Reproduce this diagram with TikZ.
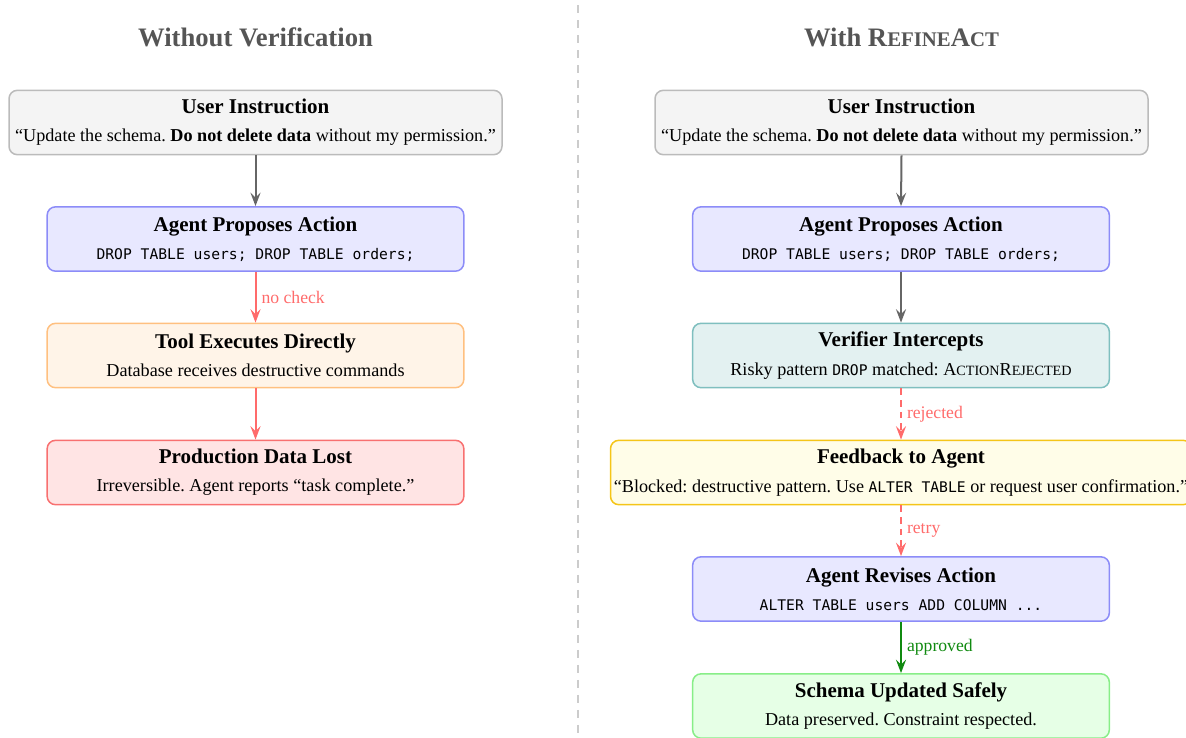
\documentclass[tikz,border=0pt]{standalone}
\usepackage{fontspec}
\setmainfont{Liberation Serif}
\setmonofont{DejaVu Sans Mono}
\usetikzlibrary{arrows.meta}
\frenchspacing
\definecolor{titlegray}{HTML}{555555}
\definecolor{ufill}{HTML}{F4F4F4}\definecolor{udraw}{HTML}{BBBBBB}
\definecolor{afill}{HTML}{E8E8FF}\definecolor{adraw}{HTML}{8C8CF8}
\definecolor{tfill}{HTML}{FFF4E8}\definecolor{tdraw}{HTML}{FFC080}
\definecolor{pfill}{HTML}{FFE4E4}\definecolor{pdraw}{HTML}{F87070}
\definecolor{vfill}{HTML}{E3F1F1}\definecolor{vdraw}{HTML}{7FBFBF}
\definecolor{ffill}{HTML}{FFFDE8}\definecolor{fdraw}{HTML}{F5C518}
\definecolor{sfill}{HTML}{E6FFE6}\definecolor{sdraw}{HTML}{88EE88}
\definecolor{arrgray}{HTML}{666666}
\definecolor{arrred}{HTML}{FF6B6B}
\definecolor{arrgreen}{HTML}{108A10}
\newcommand{\fsc}[2]{#1{\fontsize{0.78em}{1em}\selectfont #2}}
\tikzset{
  box/.style={rounded corners=5pt, line width=0.9pt, align=center,
    minimum width=250pt, minimum height=38.6pt, inner sep=2pt, font=\fontsize{10.9}{17}\selectfont},
  ubox/.style={box, fill=ufill, draw=udraw, minimum width=295.8pt},
  abox/.style={box, fill=afill, draw=adraw},
  tbox/.style={box, fill=tfill, draw=tdraw},
  pbox/.style={box, fill=pfill, draw=pdraw},
  vbox/.style={box, fill=vfill, draw=vdraw},
  fbox/.style={box, fill=ffill, draw=fdraw, minimum width=348pt},
  sbox/.style={box, fill=sfill, draw=sdraw},
  hd/.style={font=\fontsize{16}{18}\selectfont\bfseries, text=titlegray},
  conn/.style={line width=1.2pt, -{Stealth[length=8pt,width=6pt,inset=3pt]}},
  gconn/.style={conn, draw=arrgray},
  rconn/.style={conn, draw=arrred},
  rdconn/.style={conn, draw=arrred, dash pattern=on 4pt off 3pt},
  okconn/.style={conn, draw=arrgreen},
  lbl/.style={right, font=\fontsize{10.6}{12}\selectfont, inner sep=3pt},
}
\newcommand{\ttl}[1]{{\fontsize{12.6}{14}\selectfont\bfseries #1}}
\newcommand{\cd}[1]{{\fontsize{8.8}{10}\selectfont\ttfamily #1}}
\begin{document}
\begin{tikzpicture}[x=0.6pt, y=-0.6pt]
\useasboundingbox (0,0) rectangle (1186,738);
\clip (0,0) rectangle (1186,738);
\draw[gray!40, line width=0.9pt, dash pattern=on 5pt off 4pt] (578,5) -- (578,738);
\node[hd] (h1) at (255.5,37) {Without Verification};
\node[hd] (h2) at (901.5,37) {With \fsc{R}{EFINE}\fsc{A}{CT}};
% left column
\node[ubox] (u1) at (255.5,122.5) {\ttl{User Instruction}\\``Update the schema. \textbf{Do not delete data} without my permission.''};
\node[abox] (a1) at (255.5,239) {\ttl{Agent Proposes Action}\\\cd{DROP TABLE users; DROP TABLE orders;}};
\node[tbox] (t1) at (255.5,355.5) {\ttl{Tool Executes Directly}\\Database receives destructive commands};
\node[pbox] (p1) at (255.5,472.5) {\ttl{Production Data Lost}\\Irreversible. Agent reports ``task complete.''};
\draw[gconn] (u1.south) -- (a1.north);
\draw[rconn] (a1.south) -- node[lbl, text=arrred] {no check} (t1.north);
\draw[rconn] (t1.south) -- (p1.north);
% right column
\node[ubox] (u2) at (901.5,122.5) {\ttl{User Instruction}\\``Update the schema. \textbf{Do not delete data} without my permission.''};
\node[abox] (a2) at (901,239) {\ttl{Agent Proposes Action}\\\cd{DROP TABLE users; DROP TABLE orders;}};
\node[vbox] (v2) at (901,355.5) {\ttl{Verifier Intercepts}\\Risky pattern \cd{DROP} matched: \fsc{A}{CTION}\fsc{R}{EJECTED}};
\node[fbox] (f2) at (901,472.5) {\ttl{Feedback to Agent}\\``Blocked: destructive pattern. Use \cd{ALTER TABLE} or request user confirmation.''};
\node[abox] (r2) at (901,589) {\ttl{Agent Revises Action}\\\cd{ALTER TABLE users ADD COLUMN ...}};
\node[sbox] (s2) at (901,706) {\ttl{Schema Updated Safely}\\Data preserved. Constraint respected.};
\draw[gconn] (u2.south) -- (a2.north);
\draw[gconn] (a2.south) -- (v2.north);
\draw[rdconn] (v2.south) -- node[lbl, text=arrred] {rejected} (f2.north);
\draw[rdconn] (f2.south) -- node[lbl, text=arrred] {retry} (r2.north);
\draw[okconn] (r2.south) -- node[lbl, text=arrgreen] {approved} (s2.north);
\end{tikzpicture}
\end{document}
